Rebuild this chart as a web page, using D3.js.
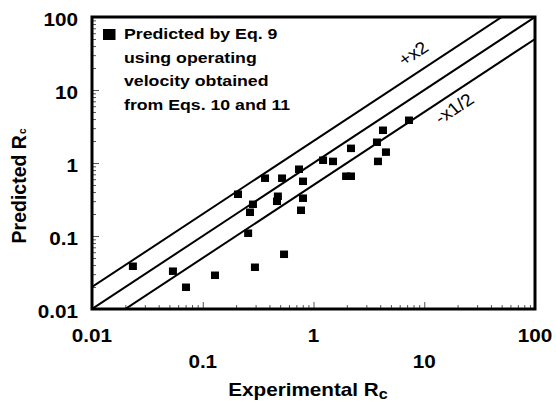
<!DOCTYPE html>
<html>
<head>
<meta charset="utf-8">
<script src="https://cdn.jsdelivr.net/npm/d3@7"></script>
<style>
  body { margin: 0; background: #fff; }
  svg { font-family: "Liberation Sans", Arial, sans-serif; }
</style>
</head>
<body>
<div id="chart"></div>
<script>
// experimental vs predicted Rc
var expRc = [0.0234, 0.0538, 0.0706, 0.129, 0.257, 0.296, 0.208, 0.284, 0.267, 0.365,
             0.520, 0.477, 0.468, 0.740, 0.804, 0.804, 0.771, 1.22, 0.542, 1.50,
             2.18, 1.97, 2.18, 4.24, 3.74, 4.51, 3.82, 7.28];
var predRc = [0.0388, 0.0332, 0.0200, 0.0292, 0.110, 0.0376, 0.376, 0.274, 0.213, 0.624,
              0.624, 0.353, 0.301, 0.828, 0.566, 0.332, 0.227, 1.10, 0.0566, 1.06,
              1.60, 0.664, 0.664, 2.83, 1.94, 1.42, 1.06, 3.88];

var tickValues = [0.01, 0.1, 1, 10, 100];
var tickLabels = ['0.01', '0.1', '1', '10', '100'];

// parity lines: predicted = ratio * experimental
var ratios = [2, 1, 0.5];
var ratioLabels = ['+x2', '', '-x1/2'];

var legendLines = ['Predicted by Eq. 9', 'using operating', 'velocity obtained', 'from Eqs. 10 and 11'];

(function() {
  var width = 556, height = 401;
  var left = 92, right = 535, top = 17, bottom = 309;
  var S = 1.15; // the scanned lettering is a bit wider than tall

  var xScale = d3.scaleLog().domain([0.01, 100]).range([left, right]);
  var yScale = d3.scaleLog().domain([0.01, 100]).range([bottom, top]);

  var svg = d3.select('#chart').append('svg')
    .attr('width', width)
    .attr('height', height);

  svg.append('clipPath').attr('id', 'plotclip')
    .append('rect')
    .attr('x', left).attr('y', top)
    .attr('width', right - left).attr('height', bottom - top);

  // minor ticks
  var minor = [];
  for (var e = -2; e < 2; e++) {
    for (var m = 2; m <= 9; m++) minor.push(m * Math.pow(10, e));
  }

  function ticks(g) { g.select('.domain').remove(); }
  svg.append('g')
    .attr('transform', 'translate(0,' + bottom + ')')
    .call(d3.axisBottom(xScale).tickValues(minor).tickSize(-4).tickFormat(''))
    .call(ticks);
  svg.append('g')
    .attr('transform', 'translate(0,' + bottom + ')')
    .call(d3.axisBottom(xScale).tickValues(tickValues).tickSize(-7).tickFormat(''))
    .call(ticks);
  svg.append('g')
    .attr('transform', 'translate(' + left + ',0)')
    .call(d3.axisLeft(yScale).tickValues(minor).tickSize(-4).tickFormat(''))
    .call(ticks);
  svg.append('g')
    .attr('transform', 'translate(' + left + ',0)')
    .call(d3.axisLeft(yScale).tickValues(tickValues).tickSize(-7).tickFormat(''))
    .call(ticks);
  svg.selectAll('.tick line').attr('stroke', '#555').attr('stroke-width', 1);

  // tick labels (x labels are staggered)
  svg.selectAll('.xlab')
    .data(tickValues)
    .enter().append('text')
    .attr('transform', function(d, i) {
      return 'translate(' + xScale(d) + ',' + (i % 2 ? 367.5 : 341.5) + ') scale(' + S + ',1)';
    })
    .attr('text-anchor', 'middle')
    .attr('font-size', 18).attr('font-weight', 'bold')
    .text(function(d, i) { return tickLabels[i]; });

  svg.selectAll('.ylab')
    .data(tickValues)
    .enter().append('text')
    .attr('transform', function(d) {
      return 'translate(78,' + (yScale(d) + 8.5) + ') scale(' + S + ',1)';
    })
    .attr('text-anchor', 'end')
    .attr('font-size', 18).attr('font-weight', 'bold')
    .text(function(d, i) { return tickLabels[i]; });

  // parity lines
  var plot = svg.append('g').attr('clip-path', 'url(#plotclip)');
  plot.selectAll('line.ratio')
    .data(ratios)
    .enter().append('line')
    .attr('x1', xScale(0.01)).attr('y1', function(r) { return yScale(0.01 * r); })
    .attr('x2', xScale(100)).attr('y2', function(r) { return yScale(100 * r); })
    .attr('stroke', '#000').attr('stroke-width', 2);

  // labels along the lines
  var slope = (yScale(1) - yScale(10)) / (xScale(10) - xScale(1));
  var angle = -Math.atan(slope * S) * 180 / Math.PI;
  var labelPos = {2: [413, -22], 0.5: [454, 16]}; // screen x, offset from line
  svg.selectAll('.rlab')
    .data(ratios.filter(function(r, i) { return ratioLabels[i]; }))
    .enter().append('text')
    .attr('transform', function(r) {
      var px = labelPos[r][0];
      var py = yScale(xScale.invert(px) * r) + labelPos[r][1];
      return 'translate(' + px + ',' + py + ') scale(' + S + ',1) rotate(' + angle + ')';
    })
    .attr('text-anchor', 'middle')
    .attr('dy', '0.35em')
    .attr('font-size', 17)
    .text(function(r) { return ratioLabels[ratios.indexOf(r)]; });

  // data points
  svg.selectAll('rect.pt')
    .data(expRc)
    .enter().append('rect')
    .attr('class', 'pt')
    .attr('x', function(d) { return xScale(d) - 4; })
    .attr('y', function(d, i) { return yScale(predRc[i]) - 3.5; })
    .attr('width', 8).attr('height', 7.5)
    .attr('fill', '#000');

  // frame
  svg.append('rect')
    .attr('x', left).attr('y', top)
    .attr('width', right - left).attr('height', bottom - top)
    .attr('fill', 'none').attr('stroke', '#000').attr('stroke-width', 3);

  // legend
  svg.append('rect')
    .attr('x', 103).attr('y', 29).attr('width', 12.5).attr('height', 11)
    .attr('fill', '#000');
  svg.selectAll('.leg')
    .data(legendLines)
    .enter().append('text')
    .attr('transform', function(d, i) {
      return 'translate(124,' + (39 + i * 23.7) + ') scale(' + S + ',1)';
    })
    .attr('font-size', 15.4).attr('font-weight', 'bold')
    .text(function(d) { return d; });

  // axis titles
  var xt = svg.append('text')
    .attr('transform', 'translate(308,396) scale(' + S + ',1)')
    .attr('text-anchor', 'middle')
    .attr('font-size', 18).attr('font-weight', 'bold');
  xt.append('tspan').text('Experimental R');
  xt.append('tspan').attr('font-size', 14).attr('dy', 3).text('c');

  var yt = svg.append('text')
    .attr('transform', 'translate(26,186) rotate(-90)')
    .attr('text-anchor', 'middle')
    .attr('font-size', 19.5).attr('font-weight', 'bold');
  yt.append('tspan').text('Predicted R');
  yt.append('tspan').attr('font-size', 10).attr('dx', 1).text('c');
})();
</script>
</body>
</html>
